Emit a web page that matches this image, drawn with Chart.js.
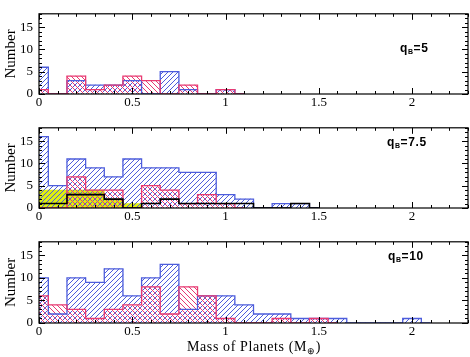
<!DOCTYPE html>
<html>
<head>
<meta charset="utf-8">
<script src="https://cdn.jsdelivr.net/npm/chart.js@4.4.0/dist/chart.umd.min.js"></script>
<style>
  body { margin: 0; background: #fff; }
  #wrap { position: relative; width: 470px; height: 357px; }
  canvas { position: absolute; left: 0; }
  .q { position: absolute; font: bold 12px 'Liberation Sans', sans-serif; letter-spacing: 0.6px; color: #000; }
  .q sub { font-size: 7px; vertical-align: -2px; }
  #xtitle { position: absolute; left: 187px; top: 339px; font: 14px 'Liberation Serif', serif; letter-spacing: 0.6px; }
  #xtitle sub { font-size: 9px; vertical-align: -3px; }
</style>
</head>
<body>
<div id="wrap">
  <canvas id="c1" width="470" height="114" style="top:0px"></canvas>
  <canvas id="c2" width="470" height="114" style="top:114px"></canvas>
  <canvas id="c3" width="470" height="115" style="top:228px"></canvas>
  <div class="q" style="left:400px;top:41px">q<sub>B</sub>=5</div>
  <div class="q" style="left:387px;top:135px">q<sub>B</sub>=7.5</div>
  <div class="q" style="left:388px;top:249px">q<sub>B</sub>=10</div>
  <div id="xtitle">Mass of Planets (M<sub>⊕</sub>)</div>
</div>
<script>
// bins of 0.1 Earth masses
const binCenters = [0, 0.1, 0.2, 0.3, 0.4, 0.5, 0.6, 0.7, 0.8, 0.9, 1.0, 1.1,
                    1.2, 1.3, 1.4, 1.5, 1.6, 1.7, 1.8, 1.9, 2.0, 2.1];
const xTicks = [0, 0.5, 1, 1.5, 2];
const yTicks = [0, 5, 10, 15];

// q_B = 5
const q5Blue = [6, 0, 3, 2, 2, 3, 0, 5, 1, 0, 1];
const q5Red = [1, 0, 4, 1, 2, 4, 3, 0, 2, 0, 1];

// q_B = 7.5
const q75Blue = [16, 5, 11, 9, 7, 11, 9, 9, 8, 8, 3, 2, 0, 1, 1];
const q75Red = [0, 0, 7, 4, 4, 0, 5, 4, 1, 3, 1];
const q75Yellow = [4, 4, 4, 4, 2, 1];
const q75Black = [1, 1, 3, 3, 2, 0, 1, 2, 1, 1, 1, 1, 0, 0, 1];

// q_B = 10
const q10Blue = [10, 2, 10, 9, 12, 6, 10, 13, 3, 6, 6, 4, 2, 2, 1, 1, 1, 0, 0, 0, 1];
const q10Red = [6, 4, 3, 1, 3, 4, 8, 2, 8, 6, 1, 0, 0, 1, 0, 1];

const BLUE = '#4d5ddc';
const RED = '#e83a72';
const YELLOW = '#dded10';
const serif = "'Liberation Serif', serif";

function hatch(color, dir) {
    const s = 5;
    const c = document.createElement('canvas');
    c.width = c.height = s;
    const g = c.getContext('2d');
    g.strokeStyle = color;
    g.lineWidth = 1;
    g.beginPath();
    if (dir > 0) {
        g.moveTo(0, s); g.lineTo(s, 0);
        g.moveTo(-1, 1); g.lineTo(1, -1);
        g.moveTo(s - 1, s + 1); g.lineTo(s + 1, s - 1);
    } else {
        g.moveTo(0, 0); g.lineTo(s, s);
        g.moveTo(s - 1, -1); g.lineTo(s + 1, 1);
        g.moveTo(-1, s - 1); g.lineTo(1, s + 1);
    }
    g.stroke();
    return g.createPattern(c, 'repeat');
}

const toPoints = vals => vals.map((v, i) => ({ x: binCenters[i], y: v }));
// outline closes back to zero on the next bin
const toOutline = vals => toPoints(vals).concat([{ x: binCenters[vals.length], y: 0 }]);

function bars(vals, bg) {
    return { type: 'bar', data: toPoints(vals), backgroundColor: bg, borderWidth: 0,
             grouped: false, barPercentage: 1, categoryPercentage: 1 };
}
function outline(vals, color, w) {
    return { type: 'line', data: toOutline(vals), borderColor: color, borderWidth: w || 1.3,
             stepped: 'middle', pointRadius: 0, fill: false };
}

// box with inward ticks on all four sides
const frame = {
    id: 'frameBox',
    afterDraw(chart) {
        const ctx = chart.ctx;
        const a = chart.chartArea;
        const x = chart.scales.x, y = chart.scales.y;
        ctx.save();
        ctx.strokeStyle = '#000';
        ctx.lineWidth = 1.2;
        ctx.strokeRect(a.left, a.top, a.right - a.left, a.bottom - a.top);
        ctx.lineWidth = 1;
        ctx.beginPath();
        for (let i = 0; i <= 23; i++) {
            const px = Math.round(x.getPixelForValue(i / 10)) + 0.5;
            const len = i % 5 === 0 ? 6 : 3;
            ctx.moveTo(px, a.bottom); ctx.lineTo(px, a.bottom - len);
            ctx.moveTo(px, a.top); ctx.lineTo(px, a.top + len);
        }
        for (let j = 0; j <= 18; j++) {
            const py = Math.round(y.getPixelForValue(j)) + 0.5;
            const len = j % 5 === 0 ? 6 : 3;
            ctx.moveTo(a.left, py); ctx.lineTo(a.left + len, py);
            ctx.moveTo(a.right, py); ctx.lineTo(a.right - len, py);
        }
        ctx.stroke();
        ctx.restore();
    }
};
Chart.register(frame);

function panel(id, datasets) {
    new Chart(document.getElementById(id), {
        data: { datasets: datasets },
        options: {
            responsive: false,
            animation: false,
            layout: { padding: { top: 3, right: 2, left: 0, bottom: 0 } },
            plugins: { legend: { display: false }, tooltip: { enabled: false } },
            scales: {
                x: {
                    type: 'linear', min: 0, max: 2.3, offset: false,
                    afterBuildTicks: s => { s.ticks = xTicks.map(v => ({ value: v })); },
                    afterFit: s => { s.height = 20; },
                    ticks: { font: { family: serif, size: 13 }, color: '#000', padding: 1,
                             maxRotation: 0, autoSkip: false, callback: v => String(v) },
                    grid: { display: false, drawTicks: false },
                    border: { display: false }
                },
                y: {
                    min: 0, max: 18,
                    afterBuildTicks: s => { s.ticks = yTicks.map(v => ({ value: v })); },
                    afterFit: s => { s.width = 39; },
                    ticks: { font: { family: serif, size: 13 }, color: '#000', padding: 6 },
                    title: { display: true, text: 'Number', color: '#000',
                             font: { family: serif, size: 15 }, padding: { top: 2, bottom: 0 } },
                    grid: { display: false, drawTicks: false },
                    border: { display: false }
                }
            }
        }
    });
}

const blueHatch = hatch(BLUE, 1);
const redHatch = hatch(RED, -1);

panel('c1', [
    outline(q5Red, RED),
    outline(q5Blue, BLUE),
    bars(q5Red, redHatch),
    bars(q5Blue, blueHatch)
]);

panel('c2', [
    outline(q75Black, '#000', 1.6),
    outline(q75Red, RED),
    outline(q75Blue, BLUE),
    bars(q75Red, redHatch),
    bars(q75Blue, blueHatch),
    bars(q75Yellow, YELLOW)
]);

panel('c3', [
    outline(q10Red, RED),
    outline(q10Blue, BLUE),
    bars(q10Red, redHatch),
    bars(q10Blue, blueHatch)
]);
</script>
</body>
</html>
